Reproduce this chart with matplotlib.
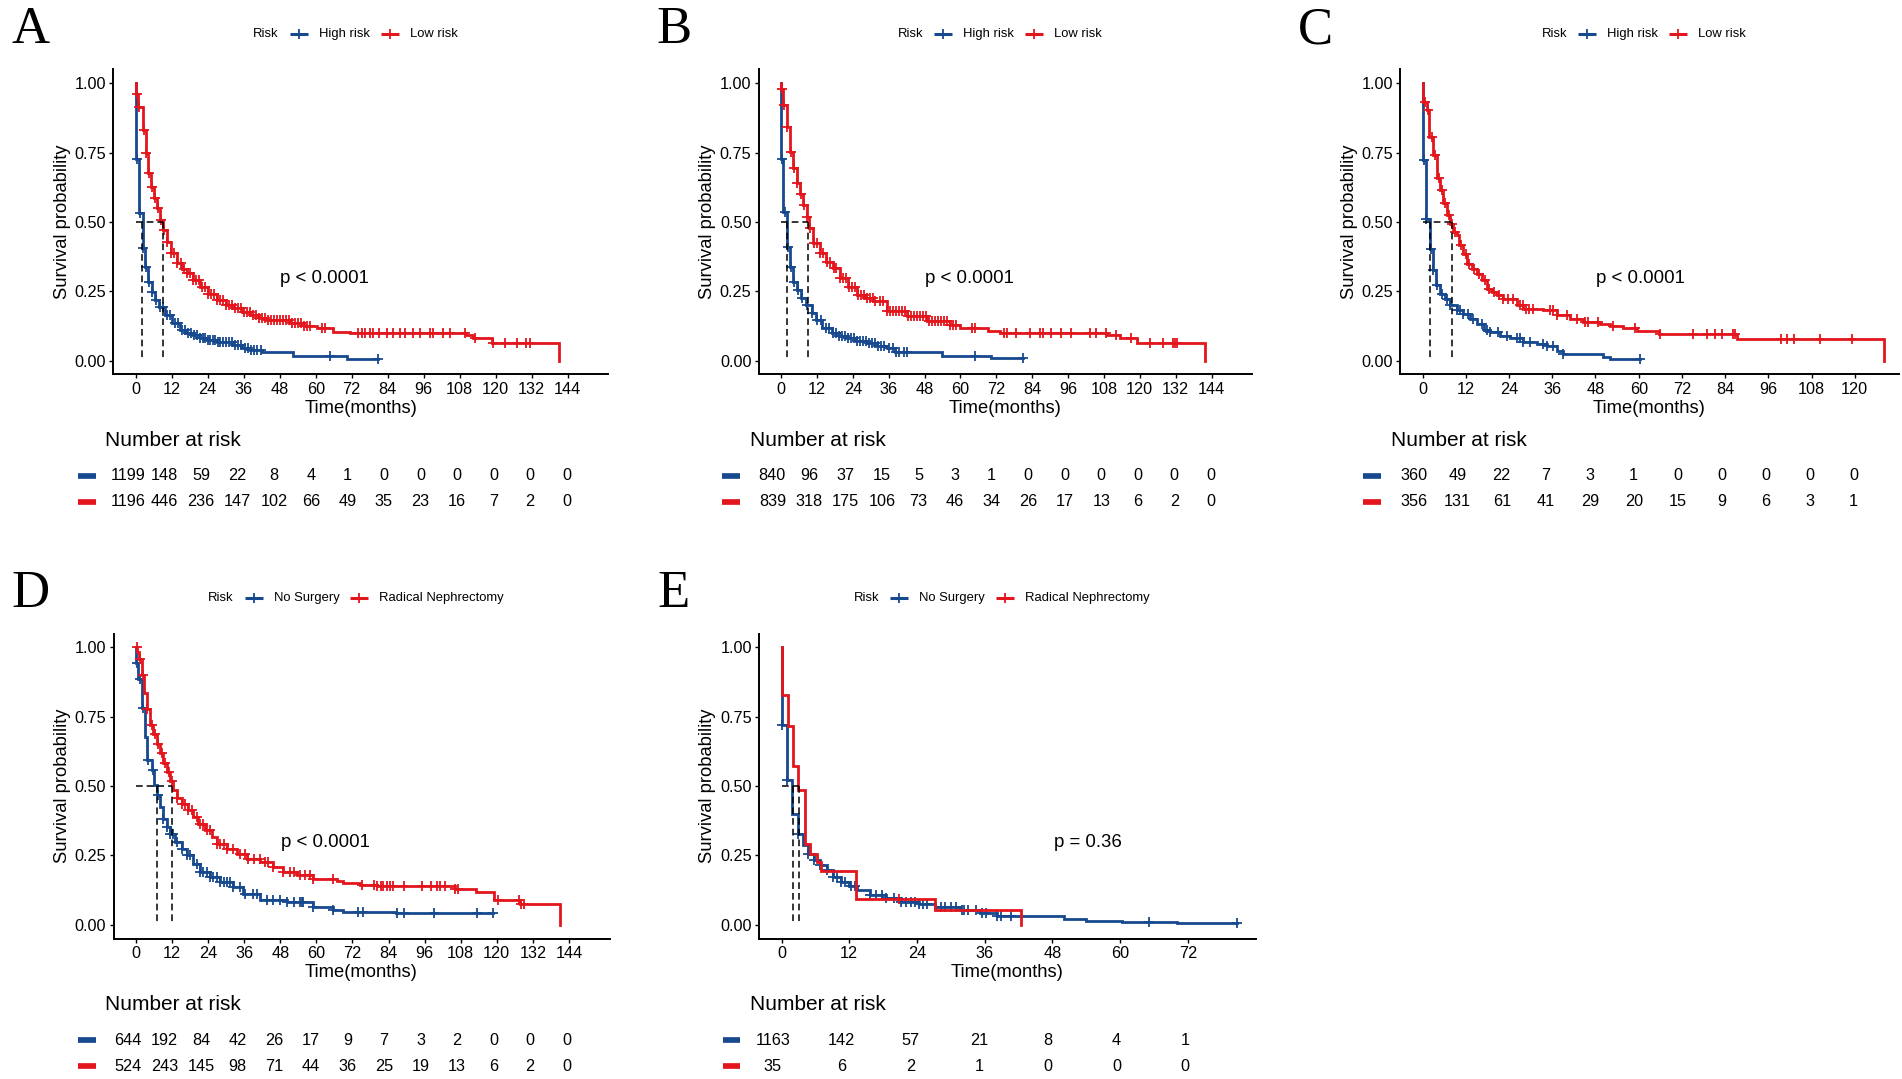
import numpy as np
import matplotlib
matplotlib.use("Agg")
import matplotlib.pyplot as plt
from matplotlib.lines import Line2D
import matplotlib.transforms as mtransforms

# ---------------- DATA ----------------
# Panel A
A_high_t = [0, 0.2, 1.2, 2.3, 3.1, 4.2, 5.3, 6.4, 7.9, 9.8, 12.0, 14.8, 16.8, 19.2, 21.5, 23.7, 27.0, 32.5, 35.5, 38.1, 42.0, 52.5, 70.3, 80.9]
A_high_s = [1.0, 0.726, 0.531, 0.405, 0.338, 0.284, 0.248, 0.218, 0.194, 0.164, 0.134, 0.110, 0.100, 0.092, 0.082, 0.074, 0.066, 0.056, 0.047, 0.038, 0.029, 0.017, 0.005, 0.005]
A_low_t = [0, 0.1, 0.9, 2.3, 3.3, 4.2, 5.1, 6.1, 7.2, 8.1, 9.2, 10.3, 11.7, 13.7, 15.5, 17.0, 19.0, 21.4, 24.0, 27.0, 30.0, 32.5, 35.5, 38.1, 41.0, 43.7, 51.4, 56.0, 60.3, 65.9, 71.4, 110.0, 112.5, 118.7, 141.0]
A_low_s = [1.0, 0.96, 0.916, 0.832, 0.75, 0.677, 0.627, 0.585, 0.549, 0.507, 0.471, 0.429, 0.387, 0.351, 0.33, 0.315, 0.29, 0.264, 0.24, 0.218, 0.2, 0.188, 0.175, 0.164, 0.155, 0.146, 0.134, 0.125, 0.116, 0.104, 0.098, 0.092, 0.08, 0.062, 0.0]
A_high_cens = [0.4, 1.4, 2.5, 3.3, 4.4, 5.5, 6.6, 8.1, 9.2, 10.5, 11.5, 13.0, 14.2, 15.5, 16.5, 17.5, 18.5, 19.5, 20.5, 21.5, 22.3, 23.0, 24.0, 24.8, 25.6, 26.5, 27.3, 28.0, 29.0, 30.0, 31.0, 32.0, 33.0, 34.0, 35.0, 36.5, 37.5, 38.5, 39.3, 40.5, 41.8, 64.8, 80.9]
A_low_cens = [0.3, 1.0, 2.6, 3.5, 4.4, 5.3, 6.3, 7.4, 8.3, 9.4, 10.5, 11.9, 12.8, 13.9, 15.0, 16.0, 17.2, 18.0, 19.2, 20.0, 21.0, 22.0, 23.0, 24.2, 25.0, 26.0, 27.2, 28.0, 29.0, 30.0, 31.2, 32.0, 33.0, 34.0, 35.0, 36.2, 37.0, 38.0, 39.0, 40.2, 41.0, 42.0, 43.0, 44.0, 45.0, 46.2, 47.0, 48.0, 49.0, 50.0, 51.0, 52.0, 53.0, 54.0, 55.0, 56.0, 57.0, 58.0, 62.0, 63.0, 74.2, 75.5, 76.5, 78.1, 79.2, 81.0, 83.6, 85.9, 88.0, 89.8, 92.5, 94.8, 98.1, 99.2, 102.5, 104.8, 109.8, 113.1, 119.2, 123.1, 127.0, 130.0, 131.5]
A_med = [2.2, 9.2]
A_risk_high = [1199, 148, 59, 22, 8, 4, 1, 0, 0, 0, 0, 0, 0]
A_risk_low = [1196, 446, 236, 147, 102, 66, 49, 35, 23, 16, 7, 2, 0]

# Panel B
B_high_t = [0, 0.1, 0.8, 1.9, 3.0, 4.1, 5.2, 6.7, 8.2, 10.2, 11.8, 13.6, 16.9, 19.5, 22.0, 25.0, 28.6, 32.0, 35.3, 38.1, 53.7, 70.4, 81.0]
B_high_s = [1.0, 0.726, 0.537, 0.409, 0.339, 0.285, 0.254, 0.225, 0.2, 0.171, 0.147, 0.117, 0.099, 0.09, 0.081, 0.072, 0.063, 0.054, 0.045, 0.032, 0.017, 0.009, 0.009]
B_low_t = [0, 0.1, 0.8, 1.9, 3.0, 4.1, 5.2, 6.4, 7.5, 8.6, 9.5, 10.8, 13.0, 15.2, 17.5, 19.7, 22.5, 25.3, 28.0, 30.9, 35.3, 42.0, 48.7, 56.5, 59.9, 69.3, 73.2, 108.9, 113.3, 119.1, 141.8]
B_low_s = [1.0, 0.978, 0.922, 0.844, 0.753, 0.694, 0.642, 0.6, 0.561, 0.519, 0.477, 0.423, 0.387, 0.357, 0.333, 0.297, 0.267, 0.237, 0.225, 0.213, 0.177, 0.159, 0.141, 0.129, 0.117, 0.105, 0.099, 0.093, 0.083, 0.063, 0.0]
B_high_cens = [0.3, 1.2, 2.2, 3.3, 4.4, 5.6, 7.0, 8.6, 10.5, 12.2, 13.5, 15.0, 16.2, 17.5, 18.5, 19.5, 20.5, 21.5, 22.5, 23.5, 24.5, 25.5, 26.5, 27.5, 28.5, 29.5, 30.5, 31.5, 32.5, 33.5, 34.5, 36.0, 37.5, 38.5, 39.5, 41.0, 42.0, 65.0, 81.0]
B_low_cens = [0.2, 0.9, 2.0, 3.2, 4.3, 5.4, 6.6, 7.7, 8.8, 9.8, 11.0, 12.0, 13.2, 14.2, 15.4, 16.4, 17.6, 18.5, 19.8, 20.6, 21.6, 22.6, 23.6, 24.6, 25.6, 26.6, 27.6, 28.6, 29.6, 30.6, 31.6, 33.0, 34.0, 35.5, 36.5, 37.5, 38.5, 39.5, 40.5, 41.5, 42.5, 43.5, 44.5, 45.5, 46.5, 47.5, 48.5, 49.5, 50.5, 51.5, 52.5, 53.5, 54.5, 55.5, 56.5, 57.5, 58.5, 63.8, 65.0, 74.5, 75.6, 78.7, 83.2, 86.5, 87.6, 90.4, 93.7, 97.1, 103.2, 105.4, 108.8, 112.1, 117.1, 123.4, 127.6, 131.0, 131.8, 132.6]
B_med = [2.0, 9.1]
B_risk_high = [840, 96, 37, 15, 5, 3, 1, 0, 0, 0, 0, 0, 0]
B_risk_low = [839, 318, 175, 106, 73, 46, 34, 26, 17, 13, 6, 2, 0]

# Panel C
C_high_t = [0, 0.2, 0.9, 2.0, 2.8, 3.7, 4.8, 6.2, 7.6, 9.4, 11.3, 13.1, 15.0, 16.9, 18.7, 21.5, 24.3, 28.0, 31.7, 34.4, 37.2, 39.1, 50.2, 52.0, 60.4]
C_high_s = [1.0, 0.723, 0.512, 0.404, 0.325, 0.271, 0.241, 0.223, 0.199, 0.183, 0.169, 0.151, 0.133, 0.111, 0.102, 0.09, 0.081, 0.066, 0.06, 0.051, 0.036, 0.024, 0.014, 0.006, 0.006]
C_low_t = [0, 0.1, 1.1, 1.85, 3.0, 3.9, 4.8, 5.7, 6.7, 7.6, 8.5, 9.4, 10.1, 11.3, 12.2, 13.6, 15.0, 16.4, 17.8, 19.2, 20.6, 22.4, 26.1, 28.0, 33.5, 37.2, 40.9, 44.6, 49.3, 52.0, 55.7, 59.4, 65.5, 87.2, 128.1]
C_low_s = [1.0, 0.934, 0.904, 0.807, 0.741, 0.657, 0.614, 0.569, 0.524, 0.494, 0.464, 0.452, 0.416, 0.386, 0.349, 0.331, 0.313, 0.289, 0.259, 0.247, 0.235, 0.223, 0.199, 0.187, 0.181, 0.166, 0.151, 0.139, 0.133, 0.123, 0.117, 0.106, 0.094, 0.076, 0.0]
C_high_cens = [0.3, 1.0, 2.2, 3.0, 4.0, 5.3, 6.7, 7.6, 9.5, 10.4, 11.3, 12.7, 14.1, 16.4, 17.8, 18.7, 21.0, 23.3, 26.1, 27.0, 28.0, 29.8, 33.5, 34.4, 36.3, 39.1, 60.4]
C_low_cens = [0.6, 1.4, 2.5, 3.5, 4.4, 5.3, 6.3, 7.2, 8.2, 9.0, 10.6, 11.9, 12.8, 14.2, 15.6, 17.2, 18.4, 19.9, 21.3, 22.4, 23.6, 25.0, 26.9, 27.8, 28.7, 29.6, 30.6, 35.4, 36.3, 37.2, 40.0, 42.8, 45.1, 46.0, 48.8, 53.0, 59.1, 66.0, 75.2, 78.9, 81.2, 83.0, 86.2, 86.7, 99.4, 101.3, 103.1, 110.3, 119.3]
C_med = [2.0, 8.1]
C_risk_high = [360, 49, 22, 7, 3, 1, 0, 0, 0, 0, 0]
C_risk_low = [356, 131, 61, 41, 29, 20, 15, 9, 6, 3, 1]

# Panel D
D_no_t = [0, 0.1, 0.8, 1.9, 3.0, 3.8, 5.2, 6.1, 6.9, 8.0, 9.1, 10.2, 11.3, 13.0, 15.2, 16.9, 19.1, 21.3, 24.6, 27.9, 32.4, 35.7, 41.3, 50.1, 59.0, 65.6, 69.0, 86.5, 118.9]
D_no_s = [1.0, 0.945, 0.888, 0.78, 0.677, 0.593, 0.557, 0.503, 0.467, 0.425, 0.383, 0.353, 0.329, 0.298, 0.274, 0.25, 0.22, 0.19, 0.172, 0.154, 0.136, 0.112, 0.088, 0.082, 0.064, 0.054, 0.045, 0.042, 0.042]
D_rn_t = [0, 0.4, 1.1, 1.9, 2.7, 3.5, 4.7, 5.8, 6.9, 8.0, 9.1, 10.2, 11.3, 12.4, 13.5, 15.2, 17.4, 19.1, 20.7, 23.0, 25.2, 26.8, 30.2, 33.5, 36.8, 41.3, 45.7, 49.0, 53.4, 59.0, 66.8, 69.0, 74.5, 80.0, 106.1, 113.1, 119.2, 127.7, 141.1]
D_rn_s = [1.0, 0.985, 0.957, 0.9, 0.836, 0.777, 0.72, 0.687, 0.651, 0.62, 0.585, 0.551, 0.519, 0.487, 0.458, 0.437, 0.415, 0.389, 0.365, 0.343, 0.316, 0.292, 0.274, 0.256, 0.238, 0.226, 0.208, 0.19, 0.178, 0.166, 0.158, 0.15, 0.142, 0.138, 0.13, 0.118, 0.091, 0.073, 0.0]
D_no_cens = [0.2, 1.3, 2.4, 4.1, 5.8, 7.4, 9.1, 10.2, 11.3, 12.4, 13.5, 15.2, 16.9, 18.0, 20.2, 21.3, 22.4, 23.5, 24.6, 25.7, 26.8, 28.0, 29.1, 30.2, 31.3, 32.4, 34.6, 36.3, 39.0, 40.1, 43.5, 45.7, 47.9, 50.1, 52.4, 54.6, 55.1, 55.7, 59.0, 65.6, 74.0, 75.6, 86.9, 89.1, 99.1, 113.3, 118.9]
D_rn_cens = [0.2, 1.3, 2.4, 3.8, 5.2, 6.3, 7.4, 8.5, 9.6, 10.8, 11.9, 13.6, 15.2, 16.3, 17.4, 18.5, 20.2, 21.3, 22.4, 23.5, 24.6, 26.8, 28.0, 29.1, 30.2, 32.4, 34.6, 36.3, 37.4, 39.1, 41.2, 42.9, 44.0, 45.7, 49.0, 51.2, 52.4, 54.6, 56.2, 57.9, 59.0, 65.6, 75.1, 79.0, 80.1, 81.4, 82.3, 83.4, 84.5, 85.5, 89.2, 95.1, 98.2, 100.1, 101.2, 102.9, 106.2, 107.1, 120.5, 127.3, 128.2, 129.1]
D_med = [7.1, 12.1]
D_risk_no = [644, 192, 84, 42, 26, 17, 9, 7, 3, 2, 0, 0, 0]
D_risk_rn = [524, 243, 145, 98, 71, 44, 36, 25, 19, 13, 6, 2, 0]

# Panel E
E_no_t = [0, 0.05, 0.9, 1.9, 2.9, 3.8, 4.7, 5.8, 6.9, 8.0, 9.1, 10.5, 12.0, 13.4, 15.6, 18.5, 21.1, 24.3, 27.2, 31.6, 35.2, 38.1, 50.0, 54.0, 60.3, 70.1, 80.7]
E_no_s = [1.0, 0.722, 0.521, 0.398, 0.329, 0.286, 0.254, 0.232, 0.214, 0.196, 0.172, 0.154, 0.138, 0.124, 0.108, 0.097, 0.082, 0.073, 0.064, 0.054, 0.042, 0.03, 0.022, 0.014, 0.01, 0.006, 0.006]
E_rn_t = [0, 0.05, 1.1, 2.0, 3.0, 4.1, 5.1, 6.2, 7.0, 13.2, 27.2, 42.4]
E_rn_s = [1.0, 0.83, 0.717, 0.573, 0.485, 0.29, 0.256, 0.226, 0.193, 0.094, 0.052, 0.0]
E_no_cens = [0.1, 0.9, 2.9, 4.7, 5.8, 6.9, 8.0, 9.1, 9.8, 10.5, 11.3, 12.3, 13.1, 15.6, 16.7, 17.8, 18.5, 19.9, 21.1, 22.1, 22.9, 23.6, 24.3, 25.0, 25.7, 28.3, 29.0, 30.1, 30.9, 32.0, 32.3, 33.1, 34.5, 35.6, 36.3, 38.2, 38.9, 40.7, 65.1, 80.7]
E_rn_cens = [20.9]
E_med = [2.0, 3.05]
E_risk_no = [1163, 142, 57, 21, 8, 4, 1]
E_risk_rn = [35, 6, 2, 1, 0, 0, 0]

# Labels
risk_labels = ["High risk", "Low risk"]
surg_labels = ["No Surgery", "Radical Nephrectomy"]
pvals = ["p < 0.0001", "p < 0.0001", "p < 0.0001", "p < 0.0001", "p = 0.36"]
pval_pos = [(63.0, 0.296), (63.0, 0.297), (60.4, 0.295), (63.0, 0.298), (54.3, 0.298)]
ticks_144 = [0, 12, 24, 36, 48, 60, 72, 84, 96, 108, 120, 132, 144]
ticks_120 = [0, 12, 24, 36, 48, 60, 72, 84, 96, 108, 120]
ticks_72 = [0, 12, 24, 36, 48, 60, 72]

# ---------------- STYLE / LAYOUT ----------------
W, H = 1902, 1079
BLUE = "#17498F"
RED = "#E3161D"
plt.rcParams['font.family'] = ['Liberation Sans', 'DejaVu Sans']

fig = plt.figure(figsize=(W / 100, H / 100), dpi=100)
renderer = fig.canvas.get_renderer()


def fx(x):
    return x / W


def fy(y):
    return 1 - y / H


def add_ax(x0, x1, ytop, ybot):
    return fig.add_axes([x0 / W, 1 - ybot / H, (x1 - x0) / W, (ybot - ytop) / H])


def step_val(t, s, c):
    t = np.asarray(t)
    s = np.asarray(s)
    idx = np.searchsorted(t, np.asarray(c), side='right') - 1
    idx = np.clip(idx, 0, len(s) - 1)
    return s[idx]


def legend_row(xc, yc, labels):
    fs = 9.4
    gap = 11.0
    keyw = 18.0
    texts = [fig.text(0, 0, "Risk", fontsize=fs, ha='left', va='center')]
    for lab in labels:
        texts.append(fig.text(0, 0, lab, fontsize=fs, ha='left', va='center'))
    widths = [t.get_window_extent(renderer).width for t in texts]
    total = widths[0] + 2 * (gap + keyw + gap) + widths[1] + widths[2] + gap
    x = xc - total / 2
    texts[0].set_position((fx(x), fy(yc)))
    x += widths[0] + gap
    for i, col in enumerate([BLUE, RED]):
        fig.add_artist(Line2D([fx(x), fx(x + keyw)], [fy(yc), fy(yc)], transform=fig.transFigure,
                              color=col, lw=2.2, solid_capstyle='butt'))
        fig.add_artist(Line2D([fx(x + keyw / 2)], [fy(yc)], transform=fig.transFigure,
                              color=col, marker='+', ms=7, mew=1.3, ls='none'))
        x += keyw + gap
        texts[i + 1].set_position((fx(x), fy(yc)))
        x += widths[i + 1] + gap


def panel(letter, plot_x, tab_x, row, xlim, ticks, curves, meds, pval, ppos, labels, risks):
    dy = 564.2 * row
    top, bot = 69.4 + dy, 374.4 + dy
    ax = add_ax(plot_x[0], plot_x[1], top, bot)
    ax.set_xlim(*xlim)
    ax.set_ylim(-0.05, 1.05)
    for sp in ['top', 'right']:
        ax.spines[sp].set_visible(False)
    for sp in ['left', 'bottom']:
        ax.spines[sp].set_linewidth(1.4)
    ax.set_xticks(ticks)
    ax.set_xticklabels([str(v) for v in ticks])
    ax.set_yticks([0, 0.25, 0.5, 0.75, 1.0])
    ax.set_yticklabels(["0.00", "0.25", "0.50", "0.75", "1.00"])
    ax.tick_params(axis='both', length=3.1, width=1.0, labelsize=11.7, colors='black')
    ax.tick_params(axis='x', pad=2.4)
    ax.tick_params(axis='y', pad=2.1)
    ax.patch.set_alpha(0)

    for z, (t, s, cens, col) in enumerate(curves):
        ax.step(t, s, where='post', color=col, lw=2.0, zorder=3 + z, solid_joinstyle='miter')
        ax.plot(cens, step_val(t, s, cens), ls='none', marker='+', ms=7, mew=1.3, color=col,
                zorder=3 + z)
    ls = (0, (4.4, 2.6))
    ax.plot([0, max(meds)], [0.5, 0.5], color='black', lw=1.1, ls=ls, zorder=6)
    for m in meds:
        ax.plot([m, m], [0.5, 0.0], color='black', lw=1.1, ls=ls, zorder=6)
    ax.text(ppos[0], ppos[1], pval, ha='center', va='center', fontsize=13.4)

    xc = (plot_x[0] + plot_x[1]) / 2
    fig.text(fx(plot_x[0] - 51), fy((top + bot) / 2), "Survival probability", rotation=90,
             ha='center', va='center', fontsize=13.2)
    fig.text(fx(xc), fy(408.3 + dy), "Time(months)", ha='center', va='center', fontsize=13.2)
    legend_row(xc, 34 + dy, labels)
    fig.text(fx(plot_x[0] - 102), fy(43 + dy), letter, fontsize=38, family='Liberation Serif',
             ha='left', va='baseline')

    # risk table
    tab = add_ax(tab_x[0], tab_x[1], 463 + dy, 515 + dy)
    tab.set_xlim(*xlim)
    tab.set_ylim(0.5, 2.5)
    tab.axis('off')
    fig.text(fx(tab_x[0]), fy(440 + dy), "Number at risk", ha='left', va='center', fontsize=15)
    blend = mtransforms.blended_transform_factory(fig.transFigure, tab.transData)
    for rowv, vals, col in [(2, risks[0], BLUE), (1, risks[1], RED)]:
        for tt, v in zip(ticks, vals):
            tab.text(tt, rowv, str(v), ha='center', va='center', fontsize=11.7)
        tab.add_line(Line2D([fx(tab_x[0] - 27.3), fx(tab_x[0] - 9.5)], [rowv, rowv], transform=blend,
                            color=col, lw=4.1, solid_capstyle='butt', clip_on=False))


panel("A", (113.2, 608.2), (105.2, 607.8), 0, (-7.5, 157.5), ticks_144,
      [(A_high_t, A_high_s, A_high_cens, BLUE), (A_low_t, A_low_s, A_low_cens, RED)],
      A_med, pvals[0], pval_pos[0], risk_labels, (A_risk_high, A_risk_low))
panel("B", (758.6, 1251.9), (749.5, 1252.0), 0, (-7.5, 157.5), ticks_144,
      [(B_high_t, B_high_s, B_high_cens, BLUE), (B_low_t, B_low_s, B_low_cens, RED)],
      B_med, pvals[1], pval_pos[1], risk_labels, (B_risk_high, B_risk_low))
panel("C", (1400.0, 1899.0), (1390.6, 1898.8), 0, (-6.3, 132.3), ticks_120,
      [(C_high_t, C_high_s, C_high_cens, BLUE), (C_low_t, C_low_s, C_low_cens, RED)],
      C_med, pvals[2], pval_pos[2], risk_labels, (C_risk_high, C_risk_low))
panel("D", (113.5, 609.5), (105.2, 607.8), 1, (-7.5, 157.5), ticks_144,
      [(D_no_t, D_no_s, D_no_cens, BLUE), (D_rn_t, D_rn_s, D_rn_cens, RED)],
      D_med, pvals[3], pval_pos[3], surg_labels, (D_risk_no, D_risk_rn))
panel("E", (759.0, 1255.5), (749.8, 1254.0), 1, (-4.0, 84.0), ticks_72,
      [(E_no_t, E_no_s, E_no_cens, BLUE), (E_rn_t, E_rn_s, E_rn_cens, RED)],
      E_med, pvals[4], pval_pos[4], surg_labels, (E_risk_no, E_risk_rn))

fig.savefig("out.png", dpi=100)
